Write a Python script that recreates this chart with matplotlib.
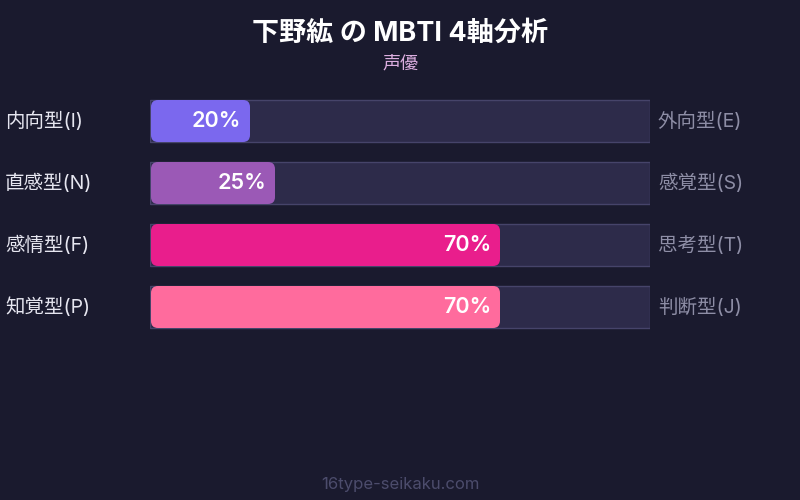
import matplotlib
matplotlib.use("Agg")
import matplotlib.pyplot as plt
from matplotlib.patches import FancyBboxPatch, Rectangle
from matplotlib.transforms import blended_transform_factory

plt.rcParams['font.family'] = ['Inter', 'Noto Sans CJK JP', 'DejaVu Sans']

title = "下野紘 の MBTI 4軸分析"
subtitle = "声優"
footer = "16type-seikaku.com"
left_labels = ["内向型(I)", "直感型(N)", "感情型(F)", "知覚型(P)"]
right_labels = ["外向型(E)", "感覚型(S)", "思考型(T)", "判断型(J)"]
values = [20, 25, 70, 70]
colors = ["#7b68ee", "#9b59b6", "#e91e8c", "#ff6b9d"]

BG = "#1a1a2e"
TRACK = "#2d2b4a"
TRACK_EDGE = "#46446a"

fig = plt.figure(figsize=(8, 5), dpi=100, facecolor=BG)
ax = fig.add_axes([150 / 800, (500 - 338) / 500, 500 / 800, 248 / 500])
ax.set_facecolor(BG)
ax.set_xlim(0, 100)
ax.set_ylim(3.5, -0.5)
ax.axis("off")

bar_h = 42 / 62
px_x = 100 / 500  # data units per pixel in x
aspect = (1 / 62) / px_x

trans_l = blended_transform_factory(fig.transFigure, ax.transData)
for i, (ll, rl, v, c) in enumerate(zip(left_labels, right_labels, values, colors)):
    ax.add_patch(Rectangle((0, i - bar_h / 2), 100, bar_h, facecolor=TRACK,
                           edgecolor=TRACK_EDGE, linewidth=1))
    ax.add_patch(FancyBboxPatch((0.2, i - bar_h / 2), v - 0.2, bar_h,
                                boxstyle=f"round,pad=0,rounding_size={7 * px_x}",
                                mutation_aspect=aspect, facecolor=c,
                                edgecolor="none", zorder=3))
    ax.text(v - 9 * px_x, i, f"{v}%", ha="right", va="center", color="white",
            fontsize=15.5, fontweight="semibold", zorder=4)
    fig.text(5 / 800, i, ll, transform=trans_l, ha="left", va="center",
             color="#e6e6f0", fontsize=14)
    fig.text(658 / 800, i, rl, transform=trans_l, ha="left", va="center",
             color="#8e8ea6", fontsize=14)

fig.text(0.5, 1 - 34 / 500, title, ha="center", va="center", color="white",
         fontsize=19.5, fontweight="bold")
fig.text(0.5, 1 - 64 / 500, subtitle, ha="center", va="center", color="#dcaee0",
         fontsize=13)
fig.text(0.5, 1 - 484 / 500, footer, ha="center", va="center", color="#4c4c6c",
         fontsize=12)

fig.savefig("out.png", dpi=100, facecolor=BG)
